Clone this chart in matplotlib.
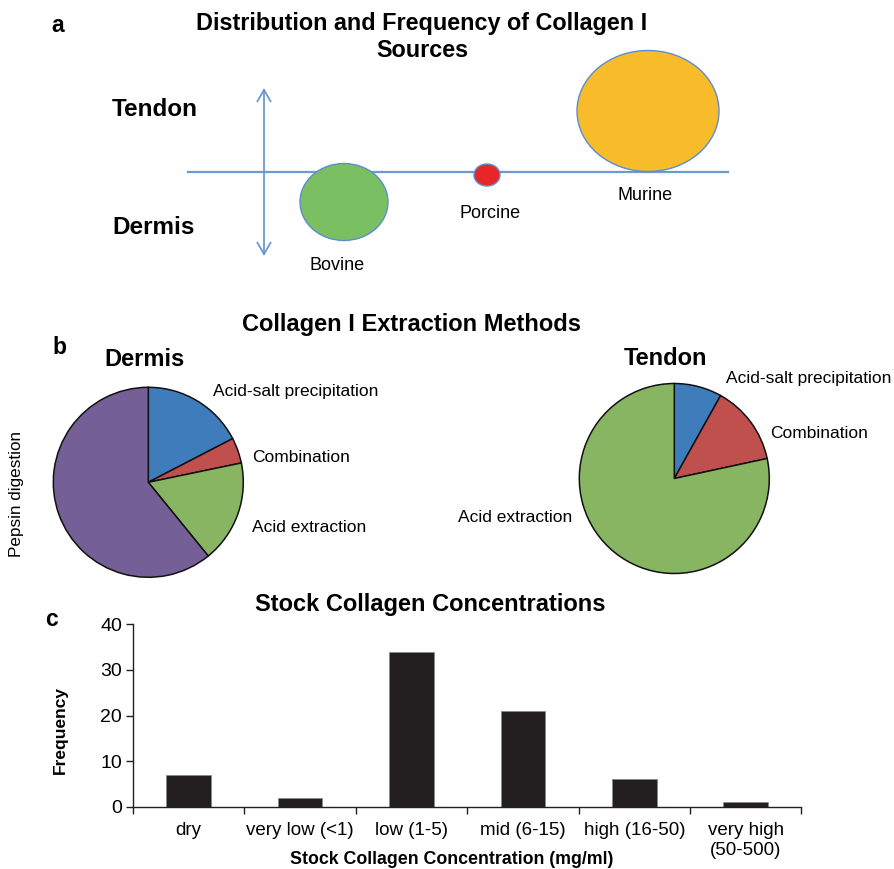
import numpy as np
import matplotlib
matplotlib.use('Agg')
import matplotlib.pyplot as plt
from matplotlib.patches import Ellipse

plt.rcParams['font.family'] = ['Liberation Sans', 'DejaVu Sans']

# panel a: collagen I sources (offsets relative to the crossing of the two axes)
sources = ['Bovine', 'Porcine', 'Murine']
source_x = [80, 223, 384]      # along the horizontal line
source_y = [-30, -3, 61]       # + towards tendon, - towards dermis
source_w = [88, 26, 142]       # bubble size ~ frequency
source_h = [77, 22, 121]
source_colors = ['#7BBF63', '#E8262A', '#F8BC2A']

# panel b: extraction methods
methods = ['Acid-salt precipitation', 'Combination', 'Acid extraction', 'Pepsin digestion']
dermis_counts = [4, 1, 4, 14]
tendon_counts = [3, 5, 29]
pie_colors = ['#3F7CBB', '#C0504D', '#88B561', '#745F97']

# panel c: stock concentrations
conc_labels = ['dry', 'very low (<1)', 'low (1-5)', 'mid (6-15)', 'high (16-50)', 'very high\n(50-500)']
conc_freq = [7, 2, 34, 21, 6, 1]

W, H = 895, 869
fig = plt.figure(figsize=(W / 100, H / 100), dpi=100)


def fx(px):
    return px / W


def fy(py):
    return 1 - py / H


def ftext(px, py, s, **kw):
    fig.text(fx(px), fy(py), s, **kw)


# ---------- panel a ----------
ox, oy = 264, 172  # crossing point in pixels
ax_a = fig.add_axes([0, fy(300), 1, 300 / H])
ax_a.set_xlim(-ox, W - ox)
ax_a.set_ylim(oy - 300, oy)
ax_a.axis('off')
line_col = '#6A9AD0'
ax_a.plot([188 - ox, 728 - ox], [0, 0], color=line_col, lw=1.6, zorder=1)
ax_a.annotate('', xy=(0, oy - 88), xytext=(0, oy - 256),
              arrowprops=dict(arrowstyle='<->,head_length=0.42,head_width=0.24',
                              color=line_col, lw=1.3, mutation_scale=20,
                              shrinkA=0, shrinkB=0))
for x, y, w, h, c in zip(source_x, source_y, source_w, source_h, source_colors):
    ax_a.add_patch(Ellipse((x, y), w, h, facecolor=c, edgecolor='#5B8ED0', lw=1, zorder=2))
ax_a.text(80 - 7, -93, 'Bovine', ha='center', va='center', fontsize=13)
ax_a.text(223 + 3, -42, 'Porcine', ha='center', va='center', fontsize=13)
ax_a.text(384 - 3, -23, 'Murine', ha='center', va='center', fontsize=13)

ftext(58, 26, 'a', fontsize=16.5, fontweight='bold', ha='center', va='center')
ftext(422, 37, 'Distribution and Frequency of Collagen I\nSources', fontsize=16.8,
      fontweight='bold', ha='center', va='center', linespacing=1.25)
ftext(112, 109, 'Tendon', fontsize=17.5, fontweight='bold', ha='left', va='center')
ftext(112, 228, 'Dermis', fontsize=17.5, fontweight='bold', ha='left', va='center')

# ---------- panel b ----------
lim = 200 / 190


def pie_axes(cx, cy, counts, colors):
    ax = fig.add_axes([fx(cx - 100), fy(cy + 100), 200 / W, 200 / H])
    ax.pie(counts, colors=colors, startangle=90, counterclock=False,
           wedgeprops=dict(edgecolor='#111111', linewidth=1.1))
    ax.set_xlim(-lim, lim)
    ax.set_ylim(-lim, lim)
    ax.set_aspect('equal')
    return ax


pie_axes(148.3, 482.3, dermis_counts, pie_colors)
pie_axes(674.3, 478.5, tendon_counts, pie_colors[:3])

ftext(412, 324, 'Collagen I Extraction Methods', fontsize=17, fontweight='bold', ha='center', va='center')
ftext(59, 347, 'b', fontsize=16.5, fontweight='bold', ha='center', va='center')
ftext(145, 359, 'Dermis', fontsize=17, fontweight='bold', ha='center', va='center')
ftext(665, 358, 'Tendon', fontsize=17, fontweight='bold', ha='center', va='center')

ftext(213, 391, methods[0], fontsize=12.5, ha='left', va='center')
ftext(252, 457, methods[1], fontsize=12.5, ha='left', va='center')
ftext(252, 527, methods[2], fontsize=12.5, ha='left', va='center')
ftext(17, 494, methods[3], fontsize=12.3, rotation=90, ha='center', va='center')

ftext(726, 379, methods[0], fontsize=12.5, ha='left', va='center')
ftext(770, 434, methods[1], fontsize=12.5, ha='left', va='center')
ftext(572, 517, methods[2], fontsize=12.5, ha='right', va='center')

# ---------- panel c ----------
ax_c = fig.add_axes([fx(133), fy(806.7), 668.4 / W, 182.4 / H])
xpos = np.arange(len(conc_freq))
ax_c.bar(xpos, conc_freq, width=0.4, color='#231F20', edgecolor='#8a8a8a', linewidth=0.6)
ax_c.set_xlim(-0.5, len(conc_freq) - 0.5)
ax_c.set_ylim(0, 40)
ax_c.set_yticks([0, 10, 20, 30, 40])
ax_c.set_xticks(np.arange(-0.5, len(conc_freq)), labels=[])
ax_c.set_xticks(xpos, labels=conc_labels, minor=True)
ax_c.tick_params(axis='x', which='major', direction='out', length=5, width=1, color='#231F20')
ax_c.tick_params(axis='x', which='minor', length=0, pad=11, labelsize=13.5)
ax_c.tick_params(axis='y', direction='out', length=5, width=1, pad=3, labelsize=14, color='#231F20')
for s in ['top', 'right']:
    ax_c.spines[s].set_visible(False)
for s in ['left', 'bottom']:
    ax_c.spines[s].set_linewidth(1)
    ax_c.spines[s].set_color('#231F20')

ftext(430, 605, 'Stock Collagen Concentrations', fontsize=17, fontweight='bold', ha='center', va='center')
ftext(52, 619, 'c', fontsize=16.5, fontweight='bold', ha='center', va='center')
ftext(60, 730, 'Frequency', fontsize=12.5, fontweight='bold', rotation=90, ha='center', va='center')
ftext(452, 859, 'Stock Collagen Concentration (mg/ml)', fontsize=12.8, fontweight='bold',
      ha='center', va='center')

fig.savefig('out.png', dpi=100)
